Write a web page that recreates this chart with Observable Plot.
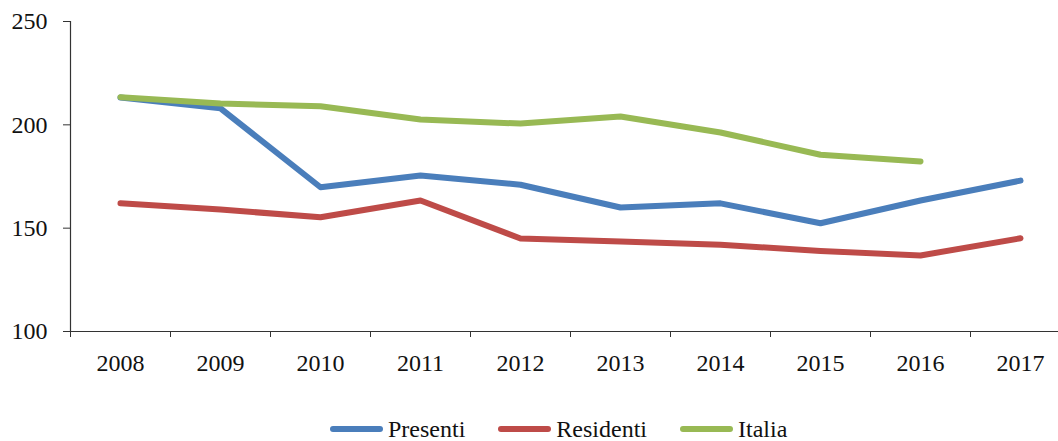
<!DOCTYPE html>
<html>
<head>
<meta charset="utf-8">
<script src="https://cdn.jsdelivr.net/npm/d3@7"></script>
<script src="https://cdn.jsdelivr.net/npm/@observablehq/plot@0.6"></script>
<style>
  body { margin: 0; background: #fff; font-family: "Liberation Serif", "Times New Roman", Times, serif; overflow: hidden; }
  #chart svg { display: block; }
  #legend { display: flex; align-items: center; margin-top: 38px; padding-left: 330px; font-size: 24px; line-height: 22px; height: 22px; color: #111; }
  .item { display: flex; align-items: center; margin-right: 33px; }
  .sw { width: 53px; height: 6px; border-radius: 3px; margin-right: 5px; }
</style>
</head>
<body>
<div id="chart"></div>
<div id="legend"></div>
<script>
const years = [2008, 2009, 2010, 2011, 2012, 2013, 2014, 2015, 2016, 2017];
const presenti = [213.2, 208, 169.8, 175.5, 171, 160, 162, 152.4, 163.4, 173];
const residenti = [162, 159, 155.3, 163.4, 145, 143.5, 142, 139, 136.8, 145.1];
const italia = [213.4, 210.3, 209, 202.6, 200.6, 204, 196.3, 185.5, 182.3, null];
const seriesNames = ["Presenti", "Residenti", "Italia"];
const seriesColors = ["#4A7EBB", "#BE4B48", "#98B954"];
const yTicks = [100, 150, 200, 250];

const seriesValues = [presenti, residenti, italia];
const data = [];
seriesNames.forEach((name, i) => {
  years.forEach((yr, j) => {
    const v = seriesValues[i][j];
    if (v != null) data.push({series: name, year: yr, value: v});
  });
});
const bounds = years.map(y => y - 0.5);

const chart = Plot.plot({
  width: 1058,
  height: 380,
  marginLeft: 70,
  marginRight: 0,
  marginTop: 21,
  marginBottom: 49,
  style: {fontFamily: "'Liberation Serif', 'Times New Roman', Times, serif", fontSize: "24px", color: "#111", background: "#fff"},
  x: {type: "linear", domain: [2007.5, 2017.38]},
  y: {domain: [100, 250]},
  color: {domain: seriesNames, range: seriesColors},
  marks: [
    Plot.axisY({ticks: yTicks, tickSize: 7, tickPadding: 16, tickFormat: d3.format("d"), label: null, stroke: "#333"}),
    Plot.axisX({ticks: bounds, tickSize: 6, tickFormat: () => "", label: null, stroke: "#333"}),
    Plot.axisX({ticks: years, tickSize: 0, tickPadding: 22, tickFormat: d3.format("d"), label: null}),
    Plot.ruleX([2007.5], {stroke: "#333", strokeWidth: 1.2}),
    Plot.ruleY([100], {stroke: "#333", strokeWidth: 1.2}),
    Plot.line(data, {x: "year", y: "value", z: "series", stroke: "series", strokeWidth: 6, strokeLinecap: "round", strokeLinejoin: "round"})
  ]
});
document.getElementById("chart").appendChild(chart);

const legend = document.getElementById("legend");
seriesNames.forEach((name, i) => {
  const item = document.createElement("div");
  item.className = "item";
  const sw = document.createElement("div");
  sw.className = "sw";
  sw.style.background = seriesColors[i];
  const label = document.createElement("span");
  label.textContent = name;
  item.appendChild(sw);
  item.appendChild(label);
  legend.appendChild(item);
});
</script>
</body>
</html>
